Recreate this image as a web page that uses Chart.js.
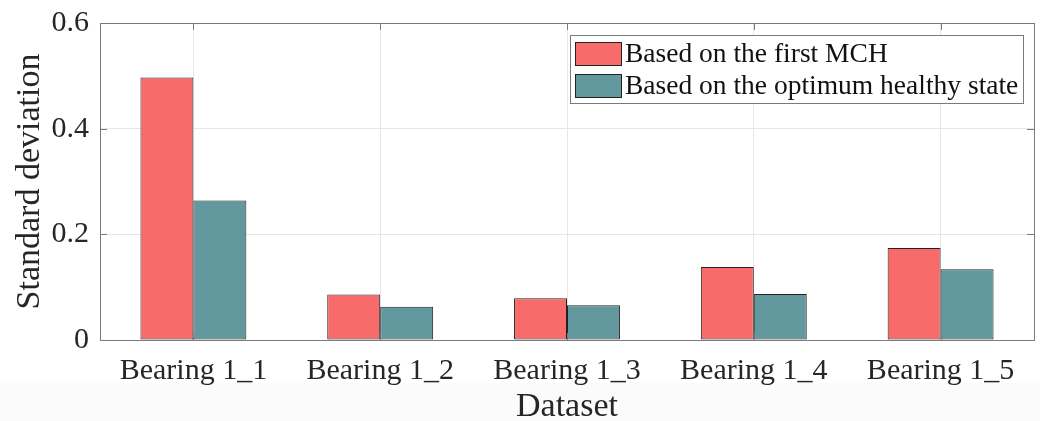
<!DOCTYPE html>
<html>
<head>
<meta charset="utf-8">
<script src="https://cdn.jsdelivr.net/npm/chart.js@4/dist/chart.umd.min.js"></script>
<style>
  html, body { margin: 0; padding: 0; background: #ffffff; }
  #wrap { width: 1040px; height: 421px; position: relative; }
</style>
</head>
<body>
<div id="wrap"><canvas id="c" width="1040" height="421"></canvas></div>
<script>
// Standard deviation of the health indicator per bearing dataset
const categories = ['Bearing 1_1', 'Bearing 1_2', 'Bearing 1_3', 'Bearing 1_4', 'Bearing 1_5'];
const firstMCH = [0.497, 0.086, 0.079, 0.138, 0.174];
const optimumState = [0.264, 0.063, 0.066, 0.087, 0.134];
const seriesNames = ['Based on the first MCH', 'Based on the optimum healthy state'];
const yTicks = [0, 0.2, 0.4, 0.6];

const SERIF = '"Liberation Serif", "Times New Roman", serif';
const RED = 'rgb(247,108,106)';
const TEAL = 'rgb(99,152,158)';
const EDGE = '#222222';
const AXIS = '#7a7a7a';
const GRID = '#e6e6e6';
const TEXT = '#262626';

// page background band and inward tick marks / axes box
const framePlugin = {
  id: 'frame',
  beforeDraw(chart) {
    const ctx = chart.ctx;
    ctx.save();
    ctx.fillStyle = '#fbfbfb';
    ctx.fillRect(0, 383, chart.width, chart.height - 383);
    ctx.restore();
  },
  afterDatasetsDraw(chart) {
    const { ctx, chartArea: a, scales } = chart;
    ctx.save();
    ctx.strokeStyle = AXIS;
    ctx.lineWidth = 1;
    const tl = 7;
    ctx.beginPath();
    scales.y.ticks.forEach(t => {
      const y = Math.round(scales.y.getPixelForValue(t.value)) + 0.5;
      ctx.moveTo(a.left, y); ctx.lineTo(a.left + tl, y);
      ctx.moveTo(a.right, y); ctx.lineTo(a.right - tl, y);
    });
    categories.forEach((c, i) => {
      const x = Math.round(scales.x.getPixelForValue(i)) + 0.5;
      ctx.moveTo(x, a.top); ctx.lineTo(x, a.top + tl);
      ctx.moveTo(x, a.bottom); ctx.lineTo(x, a.bottom - tl);
    });
    ctx.stroke();
    ctx.strokeRect(Math.round(a.left) + 0.5, Math.round(a.top) + 0.5,
                   Math.round(a.right - a.left), Math.round(a.bottom - a.top));
    ctx.restore();
  }
};

// boxed legend in the upper right of the axes
const boxLegend = {
  id: 'boxLegend',
  afterDraw(chart) {
    const { ctx, chartArea: a } = chart;
    const sets = chart.data.datasets;
    ctx.save();
    ctx.font = '27.5px ' + SERIF;
    const textW = Math.max(...sets.map(d => ctx.measureText(d.label).width));
    const swW = 46, swH = 23, rowH = 32, padL = 5, gap = 4, padR = 5;
    const w = Math.round(padL + swW + gap + textW + padR);
    const h = 68;
    const right = Math.round(a.right - 11);
    const left = right - w;
    const top = Math.round(a.top + 12);
    ctx.fillStyle = '#ffffff';
    ctx.fillRect(left, top, w, h);
    ctx.strokeStyle = AXIS;
    ctx.lineWidth = 1;
    ctx.strokeRect(left + 0.5, top + 0.5, w, h);
    sets.forEach((d, i) => {
      const cy = top + 18.5 + rowH * i;
      const sy = Math.round(cy - swH / 2);
      ctx.fillStyle = d.backgroundColor;
      ctx.fillRect(left + padL, sy, swW, swH);
      ctx.strokeStyle = EDGE;
      ctx.strokeRect(left + padL + 0.5, sy + 0.5, swW, swH);
      ctx.fillStyle = '#111111';
      ctx.textBaseline = 'middle';
      ctx.textAlign = 'left';
      ctx.fillText(d.label, left + padL + swW + gap, cy + 1);
    });
    ctx.restore();
  }
};

new Chart(document.getElementById('c'), {
  type: 'bar',
  data: {
    labels: categories,
    datasets: [
      { label: seriesNames[0], data: firstMCH, backgroundColor: RED, borderColor: EDGE, borderWidth: 1, borderSkipped: false },
      { label: seriesNames[1], data: optimumState, backgroundColor: TEAL, borderColor: EDGE, borderWidth: 1, borderSkipped: false }
    ]
  },
  options: {
    responsive: false,
    animation: false,
    devicePixelRatio: 1,
    layout: { padding: { top: 23, right: 6, left: 0, bottom: 0 } },
    datasets: { bar: { categoryPercentage: 0.567, barPercentage: 1.0 } },
    plugins: { legend: { display: false }, tooltip: { enabled: false } },
    scales: {
      x: {
        grid: { offset: false, color: GRID, drawTicks: false },
        border: { display: false },
        ticks: { color: TEXT, font: { family: SERIF, size: 30 }, padding: 13, maxRotation: 0, autoSkip: false },
        title: { display: true, text: 'Dataset', color: TEXT, font: { family: SERIF, size: 34, lineHeight: 0.8 }, padding: { top: 0, bottom: 0 } },
        afterFit(s) { s.height = 81; s.paddingLeft = 0; s.paddingRight = 0; }
      },
      y: {
        min: 0, max: 0.6,
        afterBuildTicks(s) { s.ticks = yTicks.map(v => ({ value: v })); },
        grid: { color: GRID, drawTicks: false },
        border: { display: false },
        ticks: { color: TEXT, font: { family: SERIF, size: 30 }, padding: 11, callback: v => String(v) },
        title: { display: true, text: 'Standard deviation', color: TEXT, font: { family: SERIF, size: 34, lineHeight: 1 }, padding: { top: 13, bottom: 0 } },
        afterFit(s) { s.width = 100; s.paddingTop = 0; s.paddingBottom = 0; }
      }
    }
  },
  plugins: [framePlugin, boxLegend]
});
</script>
</body>
</html>
